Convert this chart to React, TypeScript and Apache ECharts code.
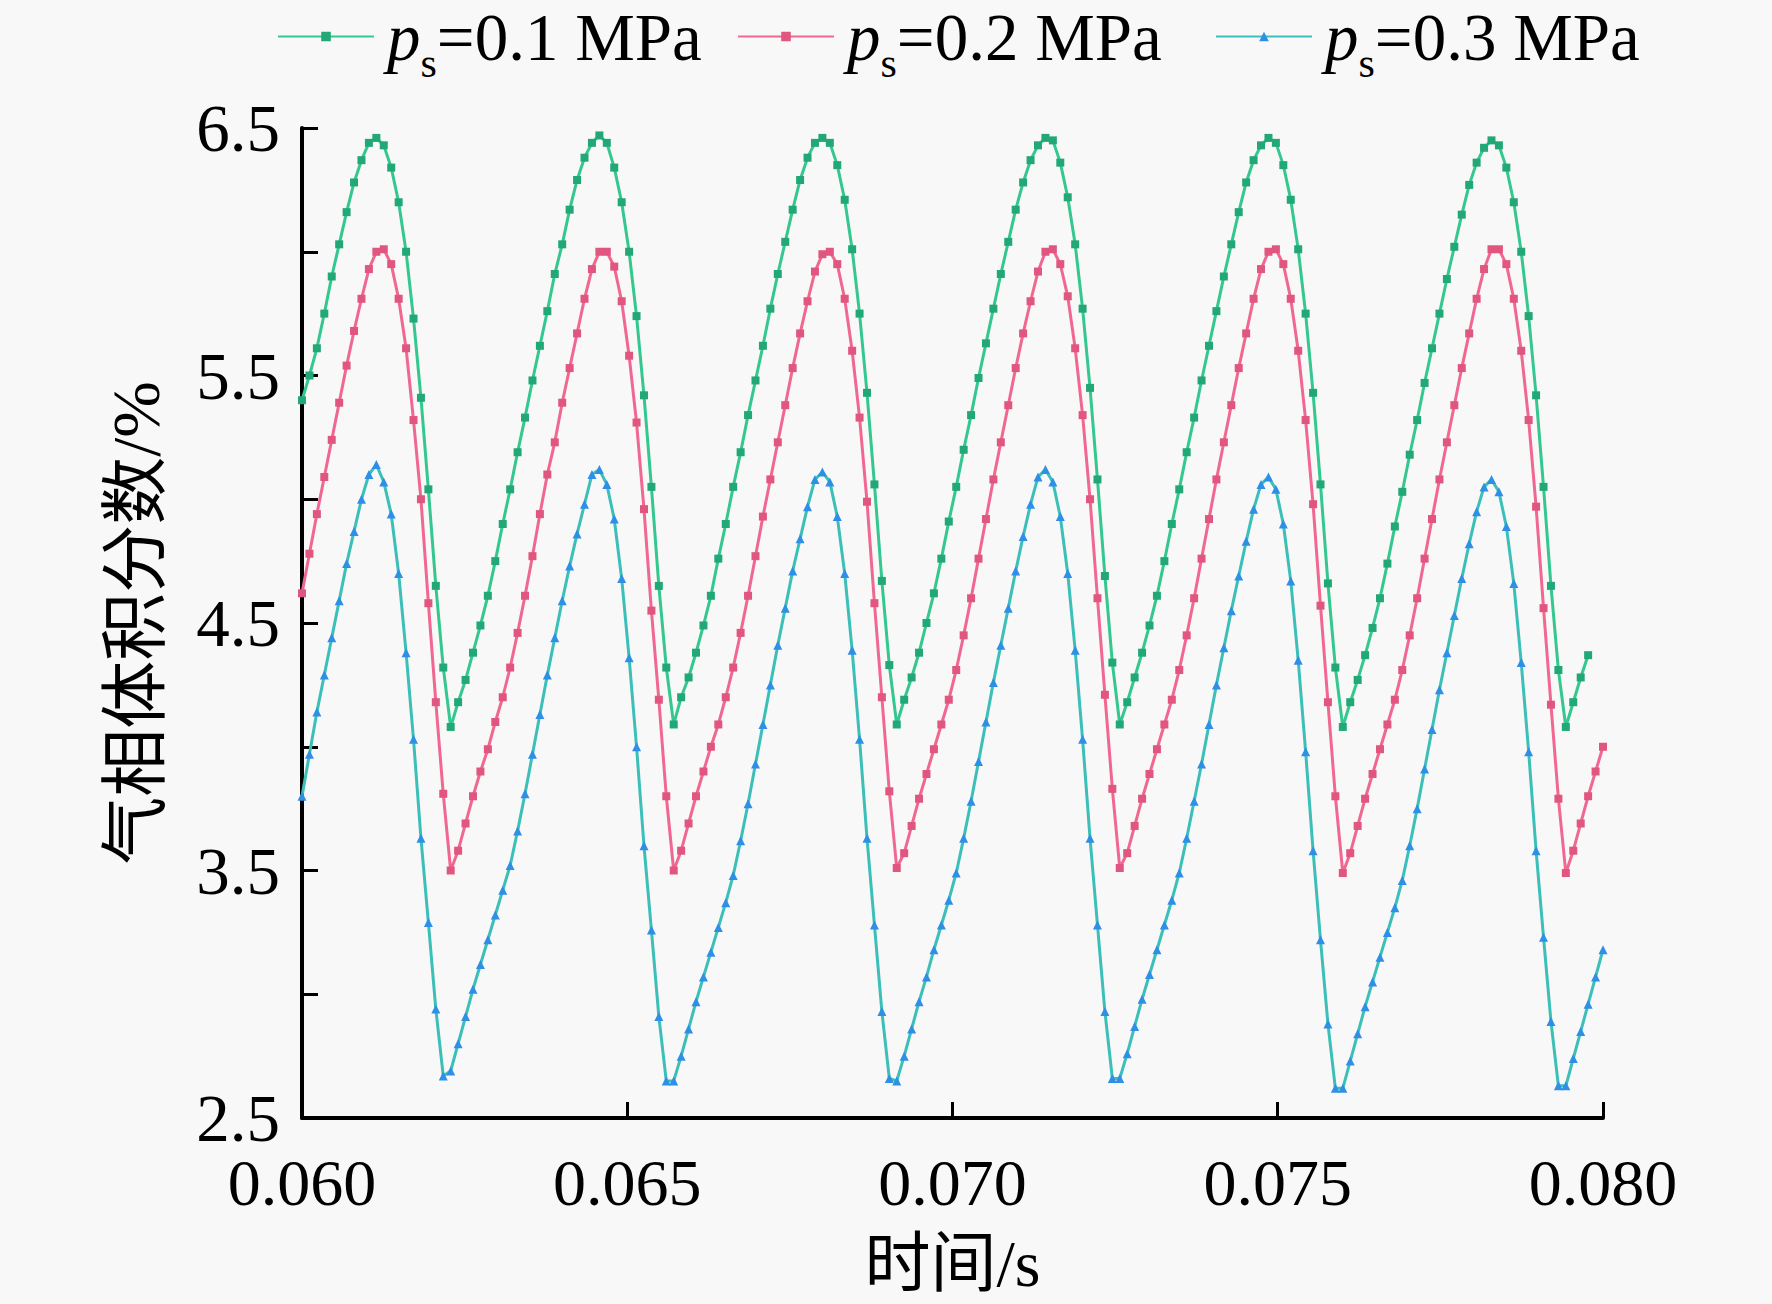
import { useEffect, useRef } from "react"
import * as echarts from "echarts"

// sampling: 0.060 s .. 0.080 s, 175 steps
const T0 = 0.06
const DT = 0.02 / 175

const LABELS = ["0.1 MPa", "0.2 MPa", "0.3 MPa"]

// p_s = 0.1 MPa
const gas01 = [
  5.40, 5.50, 5.61, 5.75, 5.90, 6.03, 6.16, 6.28, 6.37, 6.44, 6.46, 6.43, 6.34, 6.20, 6.00, 5.73, 5.41, 5.04, 4.65, 4.32,
  4.08, 4.18, 4.27, 4.38, 4.49, 4.61, 4.75, 4.90, 5.04, 5.19,
  5.33, 5.48, 5.62, 5.76, 5.91, 6.03, 6.17, 6.29, 6.38, 6.44, 6.47, 6.44, 6.34, 6.20, 6.00, 5.74, 5.42, 5.05, 4.65, 4.32,
  4.09, 4.20, 4.28, 4.38, 4.49, 4.61, 4.76, 4.90, 5.05, 5.19,
  5.34, 5.48, 5.62, 5.77, 5.91, 6.04, 6.17, 6.29, 6.38, 6.44, 6.46, 6.44, 6.35, 6.21, 6.01, 5.75, 5.43, 5.06, 4.67, 4.33,
  4.09, 4.19, 4.28, 4.38, 4.50, 4.62, 4.76, 4.91, 5.05, 5.20,
  5.34, 5.49, 5.63, 5.77, 5.91, 6.04, 6.17, 6.28, 6.37, 6.43, 6.46, 6.45, 6.36, 6.22, 6.03, 5.77, 5.45, 5.08, 4.69, 4.34,
  4.09, 4.18, 4.28, 4.38, 4.49, 4.61, 4.75, 4.90, 5.04, 5.19,
  5.33, 5.48, 5.62, 5.76, 5.90, 6.03, 6.16, 6.28, 6.37, 6.43, 6.46, 6.44, 6.35, 6.21, 6.01, 5.75, 5.43, 5.06, 4.66, 4.32,
  4.08, 4.18, 4.27, 4.37, 4.48, 4.60, 4.74, 4.89, 5.03, 5.18,
  5.32, 5.47, 5.61, 5.75, 5.89, 6.02, 6.15, 6.27, 6.36, 6.42, 6.45, 6.43, 6.34, 6.20, 6.00, 5.74, 5.42, 5.05, 4.65, 4.31,
  4.08, 4.18, 4.28, 4.37,
]

// p_s = 0.2 MPa
const gas02 = [
  4.62, 4.78, 4.94, 5.09, 5.24, 5.39, 5.54, 5.68, 5.81, 5.93, 6.00, 6.01, 5.95, 5.81, 5.61, 5.32, 5.00, 4.58, 4.18, 3.81,
  3.50, 3.58, 3.69, 3.80, 3.90, 3.99, 4.10, 4.20, 4.32, 4.46,
  4.61, 4.77, 4.94, 5.10, 5.23, 5.39, 5.53, 5.67, 5.81, 5.93, 6.00, 6.00, 5.94, 5.80, 5.58, 5.31, 4.96, 4.55, 4.19, 3.80,
  3.50, 3.58, 3.69, 3.80, 3.90, 4.00, 4.09, 4.20, 4.32, 4.46,
  4.61, 4.77, 4.93, 5.08, 5.23, 5.38, 5.53, 5.67, 5.80, 5.92, 5.99, 6.00, 5.95, 5.81, 5.60, 5.33, 4.99, 4.58, 4.20, 3.82,
  3.51, 3.57, 3.68, 3.79, 3.89, 3.99, 4.09, 4.19, 4.31, 4.45,
  4.60, 4.76, 4.92, 5.08, 5.23, 5.38, 5.53, 5.67, 5.80, 5.92, 6.00, 6.01, 5.95, 5.82, 5.61, 5.34, 5.00, 4.60, 4.21, 3.83,
  3.51, 3.57, 3.68, 3.79, 3.89, 3.99, 4.09, 4.19, 4.31, 4.45,
  4.60, 4.76, 4.92, 5.08, 5.23, 5.38, 5.53, 5.67, 5.81, 5.93, 6.00, 6.01, 5.95, 5.81, 5.60, 5.32, 4.98, 4.57, 4.18, 3.80,
  3.49, 3.57, 3.68, 3.79, 3.89, 3.99, 4.09, 4.19, 4.31, 4.45,
  4.60, 4.76, 4.92, 5.08, 5.23, 5.38, 5.53, 5.67, 5.81, 5.93, 6.01, 6.01, 5.95, 5.81, 5.60, 5.32, 4.97, 4.56, 4.17, 3.79,
  3.49, 3.58, 3.69, 3.80, 3.90, 4.00,
]

// p_s = 0.3 MPa
const gas03 = [
  3.80, 3.97, 4.14, 4.29, 4.44, 4.59, 4.74, 4.87, 5.00, 5.10, 5.14, 5.07, 4.94, 4.70, 4.38, 4.03, 3.63, 3.29, 2.94, 2.67,
  2.69, 2.80, 2.91, 3.02, 3.12, 3.22, 3.32, 3.42, 3.52, 3.66,
  3.81, 3.97, 4.13, 4.29, 4.44, 4.59, 4.73, 4.86, 4.98, 5.10, 5.12, 5.06, 4.92, 4.68, 4.36, 4.00, 3.60, 3.26, 2.91, 2.65,
  2.65, 2.75, 2.86, 2.97, 3.07, 3.17, 3.27, 3.37, 3.48, 3.62,
  3.77, 3.93, 4.09, 4.25, 4.41, 4.56, 4.71, 4.84, 4.97, 5.08, 5.11, 5.07, 4.93, 4.70, 4.39, 4.03, 3.63, 3.28, 2.93, 2.66,
  2.65, 2.75, 2.86, 2.97, 3.07, 3.18, 3.28, 3.38, 3.49, 3.63,
  3.78, 3.94, 4.10, 4.26, 4.41, 4.56, 4.71, 4.85, 4.98, 5.09, 5.12, 5.07, 4.93, 4.70, 4.39, 4.03, 3.63, 3.28, 2.93, 2.66,
  2.66, 2.76, 2.87, 2.98, 3.08, 3.18, 3.28, 3.38, 3.49, 3.63,
  3.78, 3.93, 4.09, 4.25, 4.40, 4.55, 4.69, 4.83, 4.96, 5.06, 5.09, 5.04, 4.90, 4.67, 4.35, 3.98, 3.58, 3.22, 2.88, 2.62,
  2.62, 2.73, 2.84, 2.95, 3.05, 3.15, 3.25, 3.35, 3.46, 3.60,
  3.75, 3.91, 4.07, 4.23, 4.38, 4.53, 4.68, 4.82, 4.95, 5.05, 5.08, 5.03, 4.89, 4.66, 4.34, 3.98, 3.58, 3.23, 2.89, 2.63,
  2.63, 2.74, 2.85, 2.96, 3.07, 3.18,
]

const SERIF = "'Liberation Serif', 'Times New Roman', 'Noto Sans CJK SC', serif"

const toPoints = (vals: number[]) => vals.map((v, i) => [T0 + i * DT, v])

export default function App() {
  const chartRef = useRef<HTMLDivElement>(null)

  useEffect(() => {
    document.body.style.margin = "0"
    if (!chartRef.current) return
    const chart = echarts.init(chartRef.current, undefined, { renderer: "svg" })

    const styles = [
      { line: "#34c78f", mark: "#22a877", symbol: "rect", size: 8 },
      { line: "#f06891", mark: "#e0567f", symbol: "rect", size: 8 },
      { line: "#3cbfb8", mark: "#2e8fe6", symbol: "triangle", size: 9 },
    ]
    const datasets = [gas01, gas02, gas03]
    const names = LABELS.map((l) => `ps=${l}`)
    const legendLeft = [272, 732, 1210]

    const legends = names.map((name, k) => ({
      data: [name],
      top: -2,
      left: legendLeft[k],
      itemWidth: 96,
      itemHeight: 12,
      formatter: (n: string) => `{p|p}{s|s}{t|=${n.split("=")[1]}}`,
      textStyle: {
        color: "#000",
        fontFamily: SERIF,
        fontSize: 67,
        rich: {
          p: { fontFamily: SERIF, fontSize: 67, fontStyle: "italic" as const, color: "#000", padding: [0, 0, 0, 8] },
          s: { fontFamily: SERIF, fontSize: 42, color: "#000", verticalAlign: "bottom" as const, padding: [0, 0, -14, 0] },
          t: { fontFamily: SERIF, fontSize: 67, color: "#000" },
        },
      },
    }))

    const option: echarts.EChartsOption = {
      animation: false,
      backgroundColor: "#f8f8f8",
      legend: legends,
      grid: { left: 302, right: 169, top: 128, bottom: 186 },
      xAxis: {
        type: "value",
        min: 0.06,
        max: 0.08,
        interval: 0.005,
        name: "时间/s",
        nameLocation: "middle",
        nameGap: 112,
        nameTextStyle: { fontFamily: SERIF, fontSize: 66, color: "#000" },
        axisLine: { lineStyle: { color: "#000", width: 4 } },
        axisTick: { inside: true, length: 16, lineStyle: { color: "#000", width: 3 } },
        axisLabel: {
          margin: 40,
          fontFamily: SERIF,
          fontSize: 66,
          lineHeight: 48,
          color: "#000",
          formatter: (v: number) => v.toFixed(3),
        },
        splitLine: { show: false },
      },
      yAxis: {
        type: "value",
        min: 2.5,
        max: 6.5,
        interval: 0.5,
        name: "气相体积分数/%",
        nameLocation: "middle",
        nameGap: 132,
        nameTextStyle: { fontFamily: SERIF, fontSize: 68, color: "#000" },
        axisLine: { show: true, lineStyle: { color: "#000", width: 4 } },
        axisTick: { show: true, inside: true, length: 16, lineStyle: { color: "#000", width: 3 } },
        axisLabel: {
          margin: 22,
          fontFamily: SERIF,
          fontSize: 67,
          lineHeight: 48,
          color: "#000",
          formatter: (v: number) => (Math.round(v * 10) % 10 === 5 ? v.toFixed(1) : ""),
        },
        splitLine: { show: false },
      },
      series: datasets.map((vals, k) => ({
        name: names[k],
        type: "line" as const,
        data: toPoints(vals),
        symbol: styles[k].symbol,
        symbolSize: styles[k].size,
        showAllSymbol: true,
        lineStyle: { color: styles[k].line, width: 3 },
        itemStyle: { color: styles[k].mark },
      })),
    }

    chart.setOption(option)
    return () => chart.dispose()
  }, [])

  return <div ref={chartRef} style={{ width: 1772, height: 1304 }} />
}
